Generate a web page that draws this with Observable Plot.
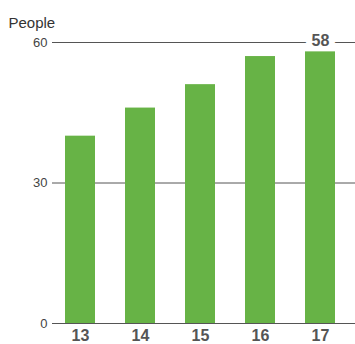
<!DOCTYPE html>
<html><head><meta charset="utf-8">
<script src="https://cdn.jsdelivr.net/npm/d3@7"></script>
<script src="https://cdn.jsdelivr.net/npm/@observablehq/plot@0.6"></script>
<style>body{margin:0;background:#fff}</style>
</head><body><div id="chart"></div>
<script>
const ages = ["13", "14", "15", "16", "17"];
const people = [40, 46, 51, 57, 58];
const yTicks = [0, 30, 60];
const labelledAge = "17";
const yTitle = "People";

const data = ages.map((a, i) => ({age: a, value: people[i]}));
const labelled = data.filter(d => d.age === labelledAge);

const chart = Plot.plot({
  width: 355, height: 344,
  marginLeft: 52, marginRight: 0, marginTop: 42, marginBottom: 21,
  style: {fontFamily: "Liberation Sans, Arial, sans-serif", background: "#fff"},
  x: {domain: ages, paddingInner: 0.5, paddingOuter: 0.275, align: 0.39, axis: null},
  y: {domain: [0, 60], axis: null},
  marks: [
    Plot.ruleY(yTicks, {stroke: "#555", strokeWidth: 1}),
    Plot.text(labelled, {x: "age", y: "value", text: d => String(d.value), dy: -11,
      fontSize: 16, fontWeight: "bold", fill: "white", stroke: "white", strokeWidth: 12, strokeLinejoin: "round"}),
    Plot.barY(data, {x: "age", y: "value", fill: "#67b346"}),
    Plot.text(labelled, {x: "age", y: "value", text: d => String(d.value), dy: -11,
      fontSize: 16, fontWeight: "bold", fill: "#555"}),
    Plot.text(yTicks, {y: d => d, text: d => String(d), frameAnchor: "left", dx: -5, textAnchor: "end",
      fontSize: 13, fill: "#444"}),
    Plot.text([yTitle], {frameAnchor: "top-left", text: d => d, dx: -44, dy: -25, textAnchor: "start",
      fontSize: 15, fill: "#333"}),
    Plot.axisX({tickSize: 0, tickPadding: 6, color: "#555", label: null})
  ]
});
d3.select(chart).selectAll('g[aria-label="x-axis tick label"]').attr("font-size", 16).style("font-size", "16px").style("font-weight", "bold");
document.getElementById("chart").appendChild(chart);
</script>
</body></html>
